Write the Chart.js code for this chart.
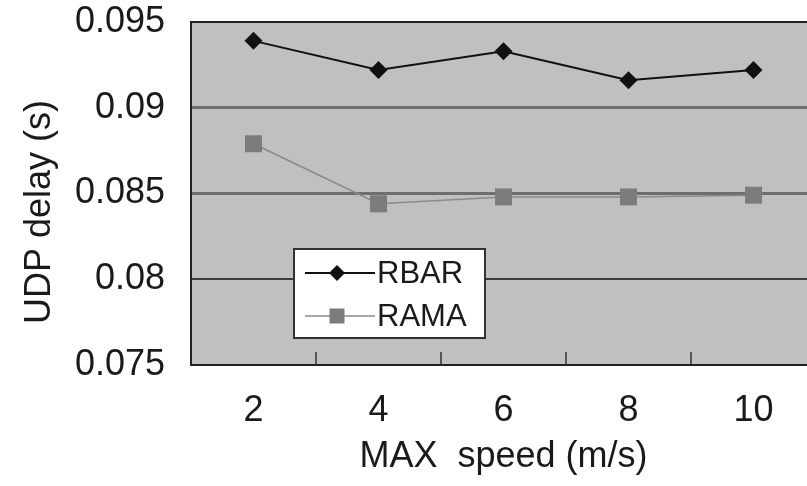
<!DOCTYPE html>
<html>
<head>
<meta charset="utf-8">
<script src="https://cdn.jsdelivr.net/npm/chart.js@4/dist/chart.umd.min.js"></script>
<style>
  html, body { margin: 0; padding: 0; background: #fff; overflow: hidden; }
  #wrap { position: relative; width: 830px; height: 486px; }
</style>
</head>
<body>
<div id="wrap"><canvas id="c"></canvas></div>
<script>
// ---- data ----
const categories = ['2', '4', '6', '8', '10'];
const rbar = [0.0939, 0.0922, 0.0933, 0.0916, 0.0922];
const rama = [0.0879, 0.0844, 0.0848, 0.0848, 0.0849];
const seriesNames = ['RBAR', 'RAMA'];
const yTickLabels = ['0.075', '0.08', '0.085', '0.09', '0.095'];
const yMin = 0.075, yMax = 0.095, yStep = 0.005;
const xTitle = 'MAX  speed (m/s)';
const yTitle = 'UDP delay (s)';

const FONT = '"Liberation Sans", Arial, Helvetica, sans-serif';
const TXT = '#1a1a1a';
const FS = 36;

const framePlugin = {
  id: 'frame',
  beforeDraw(chart) {
    const { ctx, chartArea: a } = chart;
    ctx.save();
    ctx.fillStyle = '#c0c0c0';
    ctx.fillRect(a.left, a.top, a.right - a.left, a.bottom - a.top);
    ctx.restore();
  },
  beforeDatasetsDraw(chart) {
    const { ctx, chartArea: a, scales } = chart;
    ctx.save();
    ctx.strokeStyle = '#222';
    ctx.lineWidth = 2;
    ctx.strokeRect(a.left, a.top, a.right - a.left, a.bottom - a.top);
    const xs = scales.x;
    ctx.lineWidth = 1.5;
    ctx.strokeStyle = '#333';
    for (let i = 0; i < categories.length - 1; i++) {
      const px = (xs.getPixelForValue(i) + xs.getPixelForValue(i + 1)) / 2;
      ctx.beginPath();
      ctx.moveTo(px, a.bottom);
      ctx.lineTo(px, a.bottom - 13);
      ctx.stroke();
    }
    ctx.restore();
  },
  afterDraw(chart) {
    const { ctx } = chart;
    ctx.save();
    ctx.fillStyle = TXT;
    ctx.font = FS + 'px ' + FONT;
    ctx.textAlign = 'center';
    ctx.textBaseline = 'middle';
    ctx.translate(40, 212);
    ctx.rotate(-Math.PI / 2);
    ctx.fillText(yTitle, 0, 0);
    ctx.restore();

    const bx = 294, by = 249, bw = 191, bh = 89;
    ctx.save();
    ctx.fillStyle = '#fff';
    ctx.fillRect(bx, by, bw, bh);
    ctx.strokeStyle = '#333';
    ctx.lineWidth = 2;
    ctx.strokeRect(bx, by, bw, bh);
    const rows = [273, 316];
    chart.data.datasets.forEach((ds, i) => {
      const y = rows[i];
      ctx.strokeStyle = ds.borderColor;
      ctx.lineWidth = ds.borderWidth;
      ctx.beginPath();
      ctx.moveTo(305, y);
      ctx.lineTo(375, y);
      ctx.stroke();
      ctx.fillStyle = ds.pointBackgroundColor;
      const cx = 337;
      if (ds.pointStyle === 'rectRot') {
        const r = 8;
        ctx.beginPath();
        ctx.moveTo(cx, y - r); ctx.lineTo(cx + r, y); ctx.lineTo(cx, y + r); ctx.lineTo(cx - r, y);
        ctx.closePath(); ctx.fill();
      } else {
        const s = 15;
        ctx.fillRect(cx - s / 2, y - s / 2, s, s);
      }
      ctx.fillStyle = TXT;
      ctx.font = '31px ' + FONT;
      ctx.textAlign = 'left';
      ctx.textBaseline = 'middle';
      ctx.fillText(ds.label, 377, y + 1);
    });
    ctx.restore();
  }
};

new Chart(document.getElementById('c'), {
  type: 'line',
  data: {
    labels: categories,
    datasets: [
      {
        label: seriesNames[0], data: rbar,
        borderColor: '#111', borderWidth: 2,
        pointStyle: 'rectRot', pointRadius: 9,
        pointBackgroundColor: '#111', pointBorderColor: '#111', pointBorderWidth: 0,
        tension: 0
      },
      {
        label: seriesNames[1], data: rama,
        borderColor: '#8a8a8a', borderWidth: 1.5,
        pointStyle: 'rect', pointRadius: 12,
        pointBackgroundColor: '#7c7c7c', pointBorderColor: '#7c7c7c', pointBorderWidth: 0,
        tension: 0
      }
    ]
  },
  options: {
    responsive: true,
    maintainAspectRatio: false,
    animation: false,
    layout: { padding: { left: 0, right: 14, top: 22, bottom: 0 } },
    plugins: { legend: { display: false }, tooltip: { enabled: false } },
    scales: {
      x: {
        offset: true,
        border: { display: false },
        grid: { display: false, drawTicks: false },
        ticks: { color: TXT, font: { size: FS, family: FONT }, padding: 24, maxRotation: 0 },
        title: { display: true, text: xTitle, color: TXT, font: { size: FS, family: FONT }, padding: { top: 0, bottom: 7 } },
        afterFit(s) { s.height = 121; s.paddingLeft = 0; s.paddingRight = 0; }
      },
      y: {
        min: yMin, max: yMax,
        border: { display: false },
        grid: {
          drawTicks: false,
          color(ctx) {
            const v = ctx.tick ? ctx.tick.value : 0;
            if (Math.abs(v - 0.08) < 1e-6) return '#3c3c3c';
            if (Math.abs(v - yMin) < 1e-6 || Math.abs(v - yMax) < 1e-6) return 'rgba(0,0,0,0)';
            return '#6e6e6e';
          },
          lineWidth(ctx) {
            const v = ctx.tick ? ctx.tick.value : 0;
            return Math.abs(v - 0.08) < 1e-6 ? 2 : 3;
          }
        },
        ticks: {
          stepSize: yStep,
          color: TXT,
          font: { size: FS, family: FONT },
          padding: 26,
          callback(value, index) { return yTickLabels[index]; }
        },
        afterFit(s) { s.width = 191; s.paddingTop = 0; s.paddingBottom = 0; }
      }
    }
  },
  plugins: [framePlugin]
});
</script>
</body>
</html>
